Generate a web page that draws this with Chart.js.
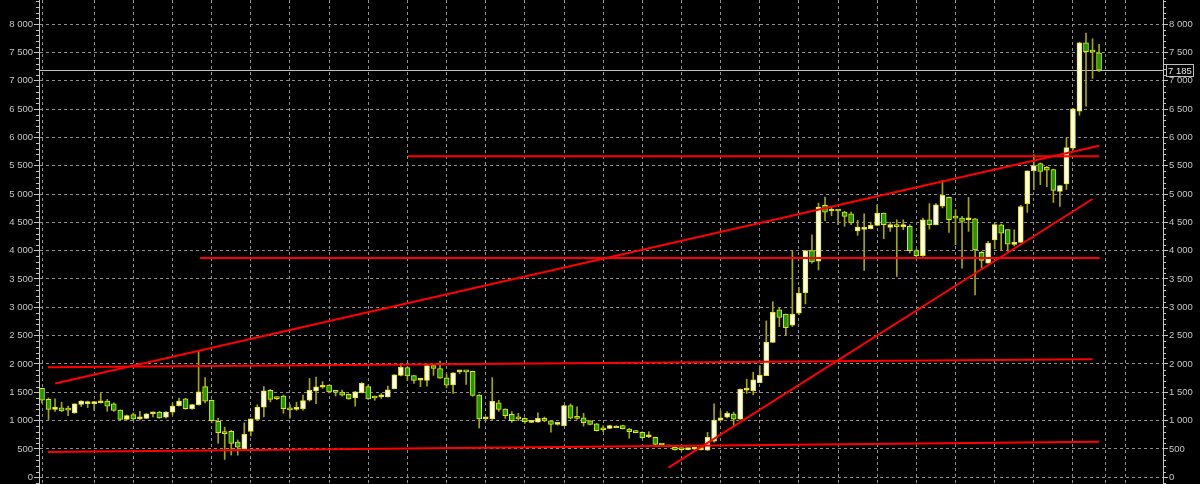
<!DOCTYPE html>
<html>
<head>
<meta charset="utf-8">
<title>Weekly candles</title>
<script src="https://cdn.jsdelivr.net/npm/chart.js@4.4.1/dist/chart.umd.min.js"></script>
<style>
  html, body { margin: 0; padding: 0; background: #000; }
</style>
</head>
<body>
<canvas id="chart" width="1200" height="484"></canvas>
<script>
// weekly OHLC, oldest first
const opens = [
  1570, 1375, 1200, 1225, 1190, 1135, 1285, 1300, 1300, 1315, 1345, 1295, 1185, 1020, 1105, 1030, 1040, 1120, 1150, 1060,
  1150, 1265, 1385, 1210, 1280, 1600, 1360, 990, 790, 810, 620, 500, 810, 1020, 1240, 1535, 1395, 1435, 1200, 1200,
  1210, 1360, 1525, 1590, 1630, 1505, 1505, 1465, 1400, 1495, 1600, 1410, 1420, 1420, 1565, 1800, 1935, 1795, 1715, 1710,
  1970, 1920, 1755, 1630, 1860, 1865, 1870, 1450, 1030, 1030, 1315, 1205, 1110, 1035, 1040, 970, 975, 1040, 995, 935,
  910, 1265, 1045, 1050, 995, 945, 850, 865, 905, 915, 850, 820, 795, 715, 705, 575, 545, 530, 495, 490,
  495, 490, 480, 640, 1010, 1060, 1115, 1025, 1540, 1530, 1670, 1795, 2380, 2955, 2880, 2685, 2895, 3260, 4000, 3815,
  4800, 4700, 4705, 4680, 4650, 4350, 4375, 4390, 4445, 4665, 4410, 4430, 4425, 4430, 4000, 3910, 4545, 4460, 4785, 4940,
  4605, 4575, 4545, 4560, 3970, 3780, 4190, 4455, 4370, 4110, 4145, 4830, 5410, 5535, 5470, 5430, 5045, 5180, 5810, 6460,
  7670, 7510, 7490
];
const highs = [
  1575, 1400, 1385, 1325, 1255, 1300, 1355, 1345, 1340, 1480, 1375, 1315, 1190, 1100, 1135, 1165, 1125, 1150, 1165, 1160,
  1310, 1400, 1395, 1290, 2235, 1760, 1365, 1045, 885, 830, 660, 960, 1030, 1280, 1600, 1550, 1420, 1450, 1285, 1325,
  1450, 1745, 1770, 1690, 1630, 1525, 1540, 1475, 1515, 1670, 1630, 1435, 1480, 1610, 1810, 1990, 1950, 1800, 1745, 1980,
  1990, 2050, 1820, 1850, 1870, 1865, 1875, 1460, 1045, 1760, 1360, 1210, 1160, 1130, 1050, 980, 1140, 1065, 1000, 945,
  1270, 1295, 1245, 1130, 1000, 950, 910, 920, 910, 920, 865, 830, 805, 805, 710, 585, 550, 535, 505, 500,
  505, 510, 795, 1295, 1170, 1160, 1150, 1560, 1730, 1855, 1970, 2760, 3100, 2985, 2880, 4000, 3355, 4000, 4280, 4840,
  4945, 4770, 4725, 4695, 4680, 4535, 4650, 4505, 4810, 4665, 4505, 4545, 4545, 4460, 4025, 4575, 4830, 4830, 5240, 4945,
  4725, 4605, 4940, 4570, 3985, 4165, 4490, 4470, 4370, 4370, 4800, 5410, 5695, 5550, 5490, 5440, 5150, 6000, 6510, 7680,
  7840, 7740, 7640
];
const lows = [
  1310, 1020, 1165, 1160, 1090, 1130, 1250, 1230, 1180, 1310, 1165, 1165, 1010, 1015, 1015, 1015, 1035, 1065, 1040, 1045,
  1100, 1255, 1200, 1200, 1275, 1315, 960, 600, 315, 393, 390, 490, 730, 1010, 1065, 1330, 1370, 1130, 1045, 1180,
  1185, 1345, 1300, 1570, 1490, 1435, 1430, 1375, 1255, 1490, 1375, 1360, 1390, 1415, 1560, 1790, 1710, 1655, 1600, 1610,
  1800, 1745, 1580, 1480, 1830, 1640, 1430, 870, 1005, 1020, 1165, 1040, 970, 1000, 950, 965, 975, 980, 795, 920,
  905, 1030, 1020, 905, 925, 815, 805, 860, 900, 855, 690, 785, 690, 700, 575, 560, 535, 480, 470, 485,
  490, 480, 475, 620, 1000, 1050, 910, 1020, 1480, 1455, 1670, 1795, 2380, 2660, 2500, 2660, 2870, 3060, 3780, 3660,
  4530, 4615, 4460, 4430, 4460, 4270, 3650, 4385, 4440, 4210, 4340, 3545, 4370, 3960, 3885, 3900, 4380, 4455, 4755, 4320,
  4105, 3690, 4340, 3220, 3690, 3780, 4030, 4015, 3990, 4085, 4140, 4675, 5075, 5165, 5130, 4850, 4780, 5080, 5780, 6390,
  6550, 7040, 7160
];
const closes = [
  1360, 1200, 1210, 1170, 1185, 1295, 1345, 1330, 1335, 1340, 1255, 1180, 1020, 1090, 1030, 1045, 1120, 1135, 1050, 1150,
  1255, 1345, 1210, 1285, 1510, 1345, 1000, 790, 770, 600, 530, 760, 1030, 1240, 1525, 1375, 1390, 1210, 1190, 1210,
  1355, 1535, 1595, 1595, 1505, 1500, 1450, 1385, 1510, 1660, 1385, 1400, 1435, 1545, 1810, 1940, 1790, 1710, 1720, 1970,
  1920, 1750, 1625, 1845, 1870, 1860, 1445, 1030, 1035, 1340, 1200, 1090, 1000, 1030, 980, 975, 1040, 995, 935, 940,
  1265, 1045, 1040, 965, 935, 825, 840, 915, 905, 860, 805, 790, 700, 720, 580, 570, 540, 485, 490, 495,
  500, 500, 705, 1010, 1050, 1130, 1025, 1555, 1575, 1720, 1800, 2385, 2910, 2820, 2640, 2880, 3250, 4000, 3800, 4770,
  4680, 4720, 4700, 4605, 4490, 4415, 4385, 4445, 4665, 4460, 4460, 4425, 4430, 4000, 3910, 4545, 4460, 4810, 4975, 4545,
  4575, 4515, 4550, 4015, 3830, 4135, 4460, 4310, 4115, 4120, 4780, 5410, 5500, 5400, 5420, 5065, 5150, 5820, 6505, 7670,
  7510, 7505, 7185
];

// week index of each candle, and weeks that carry a vertical grid line
const weeks = closes.map((_, i) => i);
const gridWeeks = [0, 8, 14, 20, 26, 32, 38, 44, 50, 56, 62, 68, 74, 80, 86, 92, 98, 104, 110, 116, 122, 128, 134, 140, 146, 152, 158, 163, 166];

// labelled price levels on both axes
const priceTicks = [0, 500, 1000, 1500, 2000, 2500, 3000, 3500, 4000, 4500, 5000, 5500, 6000, 6500, 7000, 7500, 8000];

// trend lines drawn on the chart, endpoints as [week, price]
const supportLow = [[0.9, 447], [162, 629]];
const resistance2000 = [[0.9, 1944], [161, 2085]];
const wedgeTop = [[2, 1654], [162, 5850]];
const level3870 = [[24.2, 3870], [162.1, 3870]];
const level5665 = [[56.1, 5665], [162, 5665]];
const wedgeBottom = [[96, 170], [161, 4912]];

const BULL = '#fffff2';
const BEAR = '#189c00';
const GRID = '#8e8e8e';
const AXIS = '#c4c4c4';
const FONT = { family: '"Liberation Sans", Arial, sans-serif', size: 9.5 };

function fmt(v) {
    if (v < 1000) return String(v);
    return Math.floor(v / 1000) + ' ' + String(v % 1000).padStart(3, '0');
}

function toPoints(line) {
    return line.map(([x, y]) => ({ x, y }));
}

function trend(line) {
    return {
        type: 'line',
        data: toPoints(line),
        borderColor: '#ff0000',
        borderWidth: 2,
        pointRadius: 0,
        fill: false,
        order: 0,
    };
}

// minor ticks every 100 on both price axes
const minorTicks = {
    id: 'minorTicks',
    afterDraw(chart) {
        const { ctx, chartArea, scales } = chart;
        const y = scales.y;
        ctx.save();
        ctx.strokeStyle = AXIS;
        ctx.lineWidth = 1;
        ctx.beginPath();
        for (let v = Math.ceil(y.min / 100) * 100; v <= y.max; v += 100) {
            if (v % 500 === 0) continue;
            const py = Math.round(y.getPixelForValue(v)) + 0.5;
            ctx.moveTo(chartArea.left - 3, py);
            ctx.lineTo(chartArea.left, py);
            ctx.moveTo(chartArea.right, py);
            ctx.lineTo(chartArea.right + 3, py);
        }
        ctx.stroke();
        ctx.restore();
    },
};

// last price line and its box on the right axis
const lastPrice = {
    id: 'lastPrice',
    beforeDatasetsDraw(chart) {
        const { ctx, chartArea, scales } = chart;
        const py = Math.round(scales.y.getPixelForValue(closes[closes.length - 1])) + 0.5;
        ctx.save();
        ctx.strokeStyle = '#bdbdbd';
        ctx.lineWidth = 1;
        ctx.beginPath();
        ctx.moveTo(chartArea.left, py);
        ctx.lineTo(chartArea.right, py);
        ctx.stroke();
        ctx.restore();
    },
    afterDraw(chart) {
        const { ctx, chartArea, scales } = chart;
        const last = closes[closes.length - 1];
        const py = Math.round(scales.y.getPixelForValue(last)) + 0.5;
        const x = chartArea.right + 3.5;
        ctx.save();
        ctx.fillStyle = '#000';
        ctx.fillRect(x, py - 6, 27, 12);
        ctx.strokeStyle = '#bdbdbd';
        ctx.strokeRect(x, py - 6, 27, 12);
        ctx.fillStyle = '#e6e6e6';
        ctx.font = FONT.size + 'px ' + FONT.family;
        ctx.textAlign = 'center';
        ctx.textBaseline = 'middle';
        ctx.fillText(fmt(last), x + 13.5, py + 0.5);
        ctx.restore();
    },
};

function priceAxis(position, width) {
    return {
        type: 'linear',
        position,
        min: -118,
        max: 8424,
        afterBuildTicks(scale) {
            scale.ticks = priceTicks.map((v) => ({ value: v }));
        },
        ticks: {
            color: AXIS,
            font: FONT,
            padding: 1,
            autoSkip: false,
            callback: (v) => fmt(v),
        },
        grid: {
            color: GRID,
            tickColor: AXIS,
            tickLength: 5,
            drawOnChartArea: position === 'left',
        },
        border: { display: true, color: AXIS, width: 1, dash: [3, 3] },
        afterFit(scale) {
            scale.width = width;
            scale.paddingTop = 0;
            scale.paddingBottom = 0;
        },
    };
}

new Chart(document.getElementById('chart'), {
    type: 'bar',
    data: {
        datasets: [
            trend(supportLow),
            trend(resistance2000),
            trend(wedgeTop),
            trend(level3870),
            trend(level5665),
            trend(wedgeBottom),
            {
                label: 'body',
                data: weeks.map((i) => ({ x: i, y: [opens[i], closes[i]] })),
                backgroundColor: weeks.map((i) => (closes[i] >= opens[i] ? BULL : BEAR)),
                borderColor: '#e6e600',
                borderWidth: 1,
                borderSkipped: false,
                barThickness: 5,
                minBarLength: 2,
                grouped: false,
                order: 1,
            },
            {
                label: 'wick',
                data: weeks.map((i) => ({ x: i, y: [lows[i], highs[i]] })),
                backgroundColor: '#a6a600',
                borderWidth: 0,
                barThickness: 1,
                grouped: false,
                order: 2,
            },
        ],
    },
    options: {
        responsive: false,
        animation: false,
        devicePixelRatio: 1,
        layout: { padding: 0, autoPadding: false },
        plugins: {
            legend: { display: false },
            tooltip: { enabled: false },
        },
        scales: {
            x: {
                type: 'linear',
                min: -0.46,
                max: 171.8,
                offset: false,
                afterBuildTicks(scale) {
                    scale.ticks = gridWeeks.map((v) => ({ value: v }));
                },
                ticks: { display: false },
                grid: { color: GRID, drawTicks: false, offset: false },
                border: { display: false, dash: [3, 3] },
                afterFit(scale) {
                    scale.height = 0;
                    scale.paddingLeft = 0;
                    scale.paddingRight = 0;
                },
            },
            y: priceAxis('left', 39),
            y2: priceAxis('right', 37),
        },
    },
    plugins: [minorTicks, lastPrice],
});
</script>
</body>
</html>
